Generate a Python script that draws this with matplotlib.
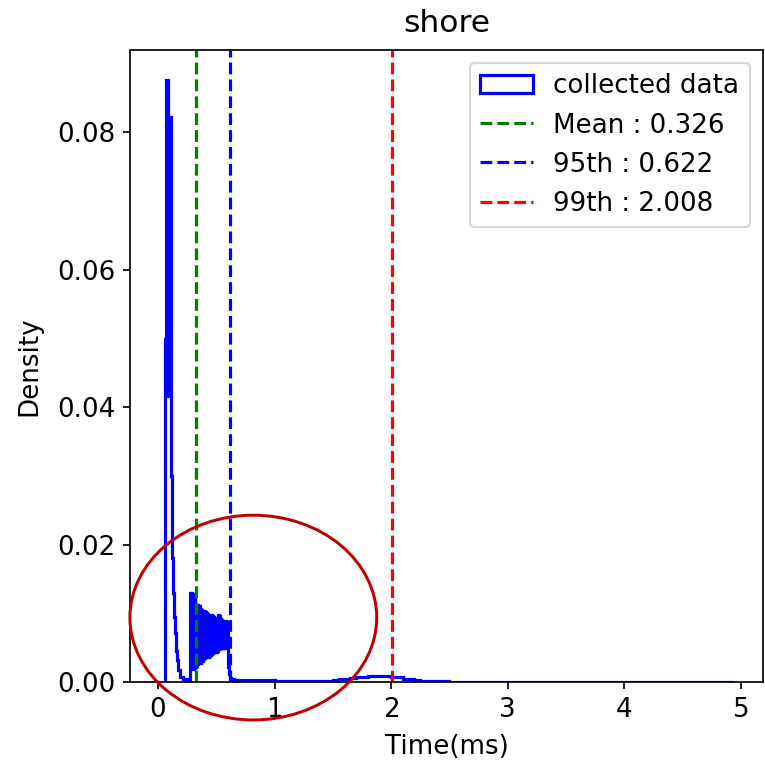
import numpy as np
import matplotlib
matplotlib.use("Agg")
from matplotlib import pyplot as plt
from matplotlib.patches import Ellipse

plt.rc("font", size=12.3)
plt.rc("path", simplify=False)

# histogram of response times (density), split in three stretches of bins
spike_edges = [0.062, 0.069, 0.085, 0.090, 0.108, 0.113, 0.118, 0.124, 0.130,
               0.137, 0.145, 0.154, 0.165, 0.175, 0.190, 0.217, 0.260, 0.275]
spike_density = [0.0500, 0.0877, 0.0415, 0.0822, 0.0510, 0.0300, 0.0240, 0.0180,
                 0.0129, 0.0095, 0.0071, 0.0045, 0.0032, 0.0018, 0.0008, 0.0004,
                 0.0003]

# narrow bins between 0.275 and 0.600 ms, alternating high / low counts
burst_density = [
    0.0130, 0.0017, 0.0129, 0.0018, 0.0128, 0.0019, 0.0127, 0.0021,
    0.0125, 0.0022, 0.0113, 0.0024, 0.0112, 0.0025, 0.0111, 0.0027,
    0.0110, 0.0028, 0.0108, 0.0030, 0.0106, 0.0031, 0.0105, 0.0033,
    0.0104, 0.0034, 0.0102, 0.0035, 0.0101, 0.0036, 0.0100, 0.0037,
    0.0099, 0.0038, 0.0098, 0.0039, 0.0097, 0.0040, 0.0096, 0.0041,
    0.0095, 0.0042, 0.0093, 0.0043, 0.0091, 0.0044, 0.0090, 0.0045,
    0.0097, 0.0046, 0.0096, 0.0047, 0.0092, 0.0048, 0.0090, 0.0049,
    0.0091, 0.0050, 0.0090, 0.0050, 0.0089, 0.0051, 0.0088, 0.0051,
    0.0087,
]
burst_edges = np.round(np.linspace(0.275, 0.600, len(burst_density) + 1), 4)

tail_edges = [0.600, 0.605, 0.610, 0.620, 0.630, 0.650, 0.800, 1.000, 1.200,
              1.400, 1.500, 1.550, 1.600, 1.650, 1.700, 1.750, 1.800, 1.850,
              1.900, 1.950, 2.000, 2.050, 2.100, 2.150, 2.200, 2.250, 2.300,
              2.500, 3.000, 4.000, 4.940]
tail_density = [0.0032, 0.0022, 0.0012, 0.0006, 0.0004, 0.0003, 0.0003, 0.0002,
                0.0002, 0.0002, 0.0003, 0.0004, 0.0005, 0.0006, 0.0007, 0.0008,
                0.0009, 0.0009, 0.0009, 0.0009, 0.0008, 0.0007, 0.0005, 0.0004,
                0.0003, 0.0002, 0.0001, 0.00005, 0.00003, 0.00002]

mean_val = 0.326
p95_val = 0.622
p99_val = 2.008

edges = np.concatenate([spike_edges[:-1], burst_edges[:-1], tail_edges])
density = np.concatenate([spike_density, burst_density, tail_density])

fig = plt.figure(figsize=(5.0, 764 / 153), dpi=153)
ax = fig.add_axes([0.1699, 0.1073, 0.9974 - 0.1699, 0.9346 - 0.1073])

ax.hist(edges[:-1], bins=edges, weights=density, histtype="step",
        color="b", linewidth=1.5, label="collected data")
ax.axvline(mean_val, color="green", linestyle="--", label="Mean : %.3f" % mean_val)
ax.axvline(p95_val, color="b", linestyle="--", label="95th : %.3f" % p95_val)
ax.axvline(p99_val, color="r", linestyle="--", label="99th : %.3f" % p99_val)

ax.set_xlim(-0.24, 5.19)
ax.set_ylim(0, 0.092)
ax.set_title("shore", pad=8.5)
ax.set_xlabel("Time(ms)", labelpad=5)
ax.set_ylabel("Density", labelpad=7)
ax.legend(loc="upper right")

# highlight around the burst region
ring = Ellipse((0.818, 0.00938), 2.117, 0.0298, fill=False,
               edgecolor="#c00000", linewidth=1.4, clip_on=False, zorder=5)
ax.add_patch(ring)

fig.savefig("out.png", dpi=153)
